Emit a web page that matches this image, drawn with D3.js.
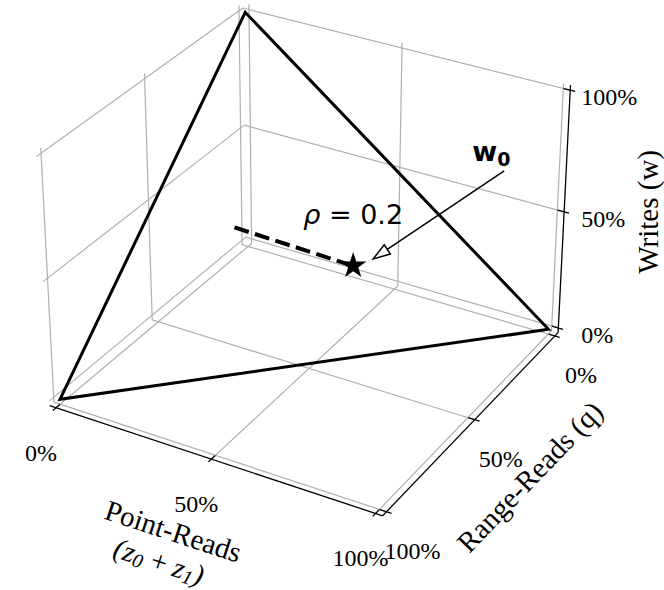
<!DOCTYPE html>
<html><head><meta charset="utf-8">
<script src="https://cdn.jsdelivr.net/npm/d3@7"></script>
<style>body{margin:0;background:#fff} svg{display:block}</style>
</head><body><svg id="chart" width="664" height="590"></svg>
<script>
// Workload simplex: point-reads (x), range-reads (y), writes (z), as fractions.
const tickValues = [0, 0.5, 1];
const tickLabels = ["0%", "50%", "100%"];
const simplexCorners = [[1, 0, 0], [0, 1, 0], [0, 0, 1]];
const rhoSegment = [[0.2, 0.4, 0.4], [0.5, 0.25, 0.25]];
const w0 = [0.5, 0.25, 0.25];
const rhoText = "0.2";

const svg = d3.select("#chart");
const pad = 1 / 48, lo = -pad, hi = 1 + pad;
const view = {azim: 30, elev: 30, dist: 8, scale: 366, cx: 309, cy: 246, zAspect: 0.76};

const sx = d3.scaleLinear().domain([0, 1]).range([-0.5, 0.5]);
const sy = d3.scaleLinear().domain([0, 1]).range([-0.5, 0.5]);
const sz = d3.scaleLinear().domain([0, 1]).range([-view.zAspect / 2, view.zAspect / 2]);

const th = view.azim * Math.PI / 180, el = view.elev * Math.PI / 180;
function project([x, y, z]) {
  const X = sx(x), Y = sy(y), Z = sz(z);
  const right = X * Math.cos(th) - Y * Math.sin(th);
  const t = X * Math.sin(th) + Y * Math.cos(th);
  const down = t * Math.sin(el) - Z * Math.cos(el);
  const depth = t * Math.cos(el) + Z * Math.sin(el);
  const f = view.dist / (view.dist - depth);
  return [view.cx + view.scale * right * f, view.cy + view.scale * down * f];
}
const line3 = d3.line().x(d => project(d)[0]).y(d => project(d)[1]);

const serif = "'Liberation Serif', 'Times New Roman', serif";
const sans = "'DejaVu Sans', sans-serif";

// grid: each tick gives an L-shaped line over the two panes it crosses
const grid = svg.append("g").attr("fill", "none").attr("stroke", "#b0b0b0")
  .attr("stroke-width", 1.2).attr("stroke-linejoin", "round");
tickValues.forEach(t => {
  grid.append("path").attr("d", line3([[t, hi, lo], [t, lo, lo], [t, lo, hi]]));
  grid.append("path").attr("d", line3([[hi, t, lo], [lo, t, lo], [lo, t, hi]]));
  grid.append("path").attr("d", line3([[lo, hi, t], [lo, lo, t], [hi, lo, t]]));
});

// axis lines and ticks
const axes = svg.append("g").attr("fill", "none").attr("stroke", "#000").attr("stroke-width", 1.3);
axes.append("path").attr("d", line3([[lo, hi, lo], [hi, hi, lo]]));
axes.append("path").attr("d", line3([[hi, lo, lo], [hi, hi, lo]]));
axes.append("path").attr("d", line3([[hi, lo, lo], [hi, lo, hi]]));
const tin = 0.02, tout = 0.015;
tickValues.forEach(t => {
  axes.append("path").attr("d", line3([[t, hi - tin, lo], [t, hi + tout, lo]]));
  axes.append("path").attr("d", line3([[hi - tin, t, lo], [hi + tout, t, lo]]));
  axes.append("path").attr("d", line3([[hi - tin, lo, t], [hi + tout, lo, t]]));
});

// tick labels
const labels = svg.append("g").attr("font-family", serif).attr("font-size", 24)
  .attr("text-anchor", "middle").attr("dominant-baseline", "central").attr("fill", "#000");
const tickOffsets = {x: [-15, 45], y: [26, 39], z: [39, 7]};
tickValues.forEach((t, i) => {
  const px = project([t, hi, lo]), py = project([hi, t, lo]), pz = project([hi, lo, t]);
  labels.append("text").attr("x", px[0] + tickOffsets.x[0]).attr("y", px[1] + tickOffsets.x[1]).text(tickLabels[i]);
  labels.append("text").attr("x", py[0] + tickOffsets.y[0]).attr("y", py[1] + tickOffsets.y[1]).text(tickLabels[i]);
  labels.append("text").attr("x", pz[0] + tickOffsets.z[0]).attr("y", pz[1] + tickOffsets.z[1]).text(tickLabels[i]);
});

// axis titles
function angleOf(a, b) {
  const p = project(a), q = project(b);
  return Math.atan2(q[1] - p[1], q[0] - p[0]) * 180 / Math.PI;
}
const titles = svg.append("g").attr("font-family", serif).attr("font-size", 29)
  .attr("text-anchor", "middle").attr("fill", "#000");
{
  const m = project([0.5, hi, lo]);
  const a = angleOf([lo, hi, lo], [hi, hi, lo]);
  const g = titles.append("g").attr("transform", `translate(${m[0] - 38},${m[1] + 72}) rotate(${a})`);
  g.append("text").attr("y", 0).attr("dominant-baseline", "central").text("Point-Reads");
  const sub = g.append("text").attr("x", -4).attr("y", 33).attr("dominant-baseline", "central")
    .attr("font-style", "italic");
  sub.append("tspan").text("(z");
  sub.append("tspan").attr("font-size", 20).attr("dy", 6).text("0");
  sub.append("tspan").attr("dy", -6).text("\u2009+\u2009z");
  sub.append("tspan").attr("font-size", 20).attr("dy", 6).text("1");
  sub.append("tspan").attr("dy", -6).text(")");
}
{
  const m = project([hi, 0.5, lo]);
  const a = angleOf([hi, hi, lo], [hi, lo, lo]);
  titles.append("text").attr("dominant-baseline", "central")
    .attr("transform", `translate(${m[0] + 55},${m[1] + 57}) rotate(${a})`).text("Range-Reads (q)");
}
{
  const m = project([hi, lo, 0.5]);
  titles.append("text").attr("dominant-baseline", "central")
    .attr("transform", `translate(${m[0] + 84},${m[1]}) rotate(-90)`).text("Writes (w)");
}

// simplex outline
svg.append("path").attr("d", line3(simplexCorners) + "Z").attr("fill", "none")
  .attr("stroke", "#000").attr("stroke-width", 3).attr("stroke-linejoin", "miter");

// rho segment and w0 marker
svg.append("path").attr("d", line3(rhoSegment)).attr("fill", "none").attr("stroke", "#000")
  .attr("stroke-width", 4).attr("stroke-dasharray", "15 6.5");
const ps = project(w0);
svg.append("path").attr("d", d3.symbol(d3.symbolStar, 215)())
  .attr("transform", `translate(${ps[0]},${ps[1]})`).attr("fill", "#000");

const rho = svg.append("text").attr("x", ps[0]).attr("y", ps[1] - 42).attr("text-anchor", "middle")
  .attr("font-family", sans).attr("font-size", 27).attr("fill", "#000");
rho.append("tspan").attr("font-style", "italic").text("ρ");
rho.append("tspan").text(" = " + rhoText);

// annotation arrow for w0
const tip = [ps[0] + 20, ps[1] - 7], tail = [ps[0] + 151, ps[1] - 95];
const ux = tip[0] - tail[0], uy = tip[1] - tail[1], len = Math.hypot(ux, uy);
const u = [ux / len, uy / len], n = [-u[1], u[0]];
const hl = 17, hw = 5.5;
const base = [tip[0] - hl * u[0], tip[1] - hl * u[1]];
svg.append("path").attr("d", d3.line()([tail, base])).attr("stroke", "#000").attr("stroke-width", 1.5);
svg.append("path").attr("d", d3.line()([tip, [base[0] + hw * n[0], base[1] + hw * n[1]],
  [base[0] - hw * n[0], base[1] - hw * n[1]]]) + "Z")
  .attr("fill", "#fff").attr("stroke", "#000").attr("stroke-width", 1.5).attr("stroke-linejoin", "miter");
const wl = svg.append("text").attr("x", ps[0] + 119).attr("y", ps[1] - 105)
  .attr("font-family", sans).attr("font-weight", "bold").attr("font-size", 27).attr("fill", "#000");
wl.append("tspan").text("w");
wl.append("tspan").attr("font-size", 19).attr("dy", 5).text("0");
</script></body></html>
